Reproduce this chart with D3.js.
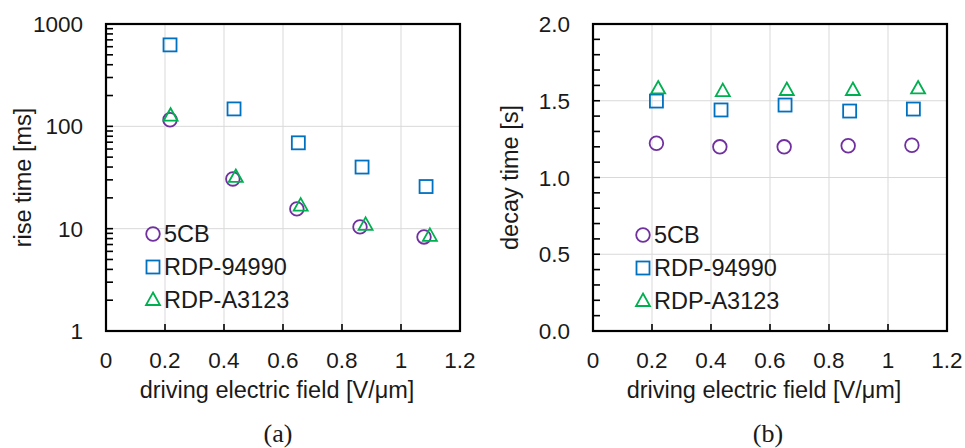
<!DOCTYPE html>
<html>
<head>
<meta charset="utf-8">
<script src="https://cdn.jsdelivr.net/npm/d3@7"></script>
<style>
    body { margin: 0; background: #fff; }
    svg { display: block; }
    text { font-family: "Liberation Sans", Arial, sans-serif; fill: #1a1a1a; }
</style>
</head>
<body>
<div id="chart"></div>
<script>
    // x positions (driving electric field, V/um)
    var riseX = {
        "5CB": [0.217, 0.43, 0.647, 0.861, 1.078],
        "RDP-94990": [0.217, 0.434, 0.652, 0.868, 1.085],
        "RDP-A3123": [0.219, 0.44, 0.66, 0.88, 1.098]
    };
    // rise time [ms]
    var rise5CB = [116, 30.6, 15.6, 10.4, 8.3];
    var riseRDP94990 = [625, 148, 69, 40, 25.8];
    var riseRDPA3123 = [127, 32, 16.8, 10.9, 8.5];

    var decayX = {
        "5CB": [0.215, 0.43, 0.648, 0.865, 1.081],
        "RDP-94990": [0.215, 0.434, 0.651, 0.87, 1.086],
        "RDP-A3123": [0.221, 0.44, 0.657, 0.881, 1.102]
    };
    // decay time [s]
    var decay5CB = [1.223, 1.2, 1.2, 1.207, 1.21];
    var decayRDP94990 = [1.498, 1.44, 1.472, 1.433, 1.446];
    var decayRDPA3123 = [1.58, 1.563, 1.57, 1.57, 1.58];

    var seriesNames = ["5CB", "RDP-94990", "RDP-A3123"];
    var seriesColors = ["#7030a0", "#0070c0", "#00b050"];
    var seriesShapes = ["circle", "square", "triangle"];

    var xTicks = [0, 0.2, 0.4, 0.6, 0.8, 1, 1.2];
    var riseTicks = [1, 10, 100, 1000];
    var decayTicks = [0, 0.5, 1.0, 1.5, 2.0];

    var svg = d3.select("#chart")
        .append("svg")
        .attr("width", 965)
        .attr("height", 448);

    function drawMarker(g, shape, color, cx, cy) {
        var s = 13;
        if (shape === "circle") {
            g.append("circle")
                .attr("cx", cx).attr("cy", cy).attr("r", 6.8)
                .attr("fill", "none").attr("stroke", color).attr("stroke-width", 1.8);
        } else if (shape === "square") {
            g.append("rect")
                .attr("x", cx - s / 2).attr("y", cy - s / 2)
                .attr("width", s).attr("height", s)
                .attr("fill", "none").attr("stroke", color).attr("stroke-width", 1.8);
        } else {
            var h = 12.5;
            g.append("path")
                .attr("d", "M" + cx + "," + (cy - h * 0.6) +
                    "L" + (cx + 7) + "," + (cy + h * 0.4) +
                    "L" + (cx - 7) + "," + (cy + h * 0.4) + "Z")
                .attr("fill", "none").attr("stroke", color).attr("stroke-width", 1.8);
        }
    }

    function drawPanel(opts) {
        var g = svg.append("g");
        var x = d3.scaleLinear().domain([0, 1.2]).range([opts.left, opts.right]);
        var y = opts.y;
        var top = opts.top, bottom = opts.bottom;

        // grid
        g.append("g").selectAll("line")
            .data(xTicks.slice(1, -1))
            .enter().append("line")
            .attr("x1", function(d) { return x(d); })
            .attr("x2", function(d) { return x(d); })
            .attr("y1", top).attr("y2", bottom)
            .attr("stroke", "#d9d9d9").attr("stroke-width", 1);
        g.append("g").selectAll("line")
            .data(opts.yTicks.slice(1, -1))
            .enter().append("line")
            .attr("y1", function(d) { return y(d); })
            .attr("y2", function(d) { return y(d); })
            .attr("x1", opts.left).attr("x2", opts.right)
            .attr("stroke", "#d9d9d9").attr("stroke-width", 1);

        // minor / major ticks on y axis, inward
        g.append("g").selectAll("line")
            .data(opts.minorTicks)
            .enter().append("line")
            .attr("y1", function(d) { return y(d); })
            .attr("y2", function(d) { return y(d); })
            .attr("x1", opts.left).attr("x2", opts.left + 7)
            .attr("stroke", "#000").attr("stroke-width", 1.6);
        // x ticks, inward
        g.append("g").selectAll("line")
            .data(xTicks.slice(1, -1))
            .enter().append("line")
            .attr("x1", function(d) { return x(d); })
            .attr("x2", function(d) { return x(d); })
            .attr("y1", bottom).attr("y2", bottom - 7)
            .attr("stroke", "#000").attr("stroke-width", 1.6);

        // frame
        g.append("rect")
            .attr("x", opts.left).attr("y", top)
            .attr("width", opts.right - opts.left)
            .attr("height", bottom - top)
            .attr("fill", "none").attr("stroke", "#000").attr("stroke-width", 2.2);

        // tick labels
        g.append("g").selectAll("text")
            .data(opts.yTicks)
            .enter().append("text")
            .attr("x", opts.left - 23)
            .attr("y", function(d) { return y(d); })
            .attr("dy", "0.36em")
            .attr("text-anchor", "end")
            .style("font-size", "22.5px")
            .text(opts.yFormat);
        g.append("g").selectAll("text")
            .data(xTicks)
            .enter().append("text")
            .attr("x", function(d) { return x(d); })
            .attr("y", 368)
            .attr("text-anchor", "middle")
            .style("font-size", "22.5px")
            .text(function(d) { return d3.format("")(d); });

        // axis titles
        g.append("text")
            .attr("x", (opts.left + opts.right) / 2 - 6)
            .attr("y", 398)
            .attr("text-anchor", "middle")
            .style("font-size", "23.5px")
            .text("driving electric field [V/\u03bcm]");
        g.append("text")
            .attr("transform", "translate(" + opts.titleX + "," + ((top + bottom) / 2) + ") rotate(-90)")
            .attr("text-anchor", "middle")
            .style("font-size", "23.5px")
            .text(opts.yTitle);

        // caption
        g.append("text")
            .attr("x", opts.captionX)
            .attr("y", 442)
            .attr("text-anchor", "middle")
            .style("font-family", "'Liberation Serif', 'Times New Roman', serif")
            .style("font-size", "26px")
            .text(opts.caption);

        // data markers
        opts.series.forEach(function(vals, i) {
            var xs = opts.xs[seriesNames[i]];
            var sg = g.append("g");
            vals.forEach(function(v, j) {
                drawMarker(sg, seriesShapes[i], seriesColors[i], x(xs[j]), y(v));
            });
        });

        // legend
        var lg = g.append("g");
        seriesNames.forEach(function(name, i) {
            var ly = opts.legendY + i * 33;
            drawMarker(lg, seriesShapes[i], seriesColors[i], opts.legendX, ly);
            lg.append("text")
                .attr("x", opts.legendX + 11)
                .attr("y", ly)
                .attr("dy", "0.36em")
                .style("font-size", "23.5px")
                .text(name);
        });
    }

    var riseY = d3.scaleLog().domain([1, 1000]).range([331, 24]);
    var riseMinor = [];
    [1, 10, 100].forEach(function(b) {
        d3.range(1, 10).forEach(function(m) { riseMinor.push(b * m); });
    });

    drawPanel({
        left: 106, right: 460, top: 24, bottom: 331,
        y: riseY,
        yTicks: riseTicks,
        minorTicks: riseMinor,
        yFormat: function(d) { return d3.format("d")(d); },
        yTitle: "rise time [ms]",
        titleX: 31,
        caption: "(a)",
        captionX: 278,
        series: [rise5CB, riseRDP94990, riseRDPA3123],
        xs: riseX,
        legendX: 153,
        legendY: 234
    });

    var decayY = d3.scaleLinear().domain([0, 2]).range([331, 24]);
    drawPanel({
        left: 593, right: 947, top: 24, bottom: 331,
        y: decayY,
        yTicks: decayTicks,
        minorTicks: d3.range(0, 2.0001, 0.1),
        yFormat: function(d) { return d3.format(".1f")(d); },
        yTitle: "decay time [s]",
        titleX: 518,
        caption: "(b)",
        captionX: 768,
        series: [decay5CB, decayRDP94990, decayRDPA3123],
        xs: decayX,
        legendX: 643,
        legendY: 235
    });
</script>
</body>
</html>
